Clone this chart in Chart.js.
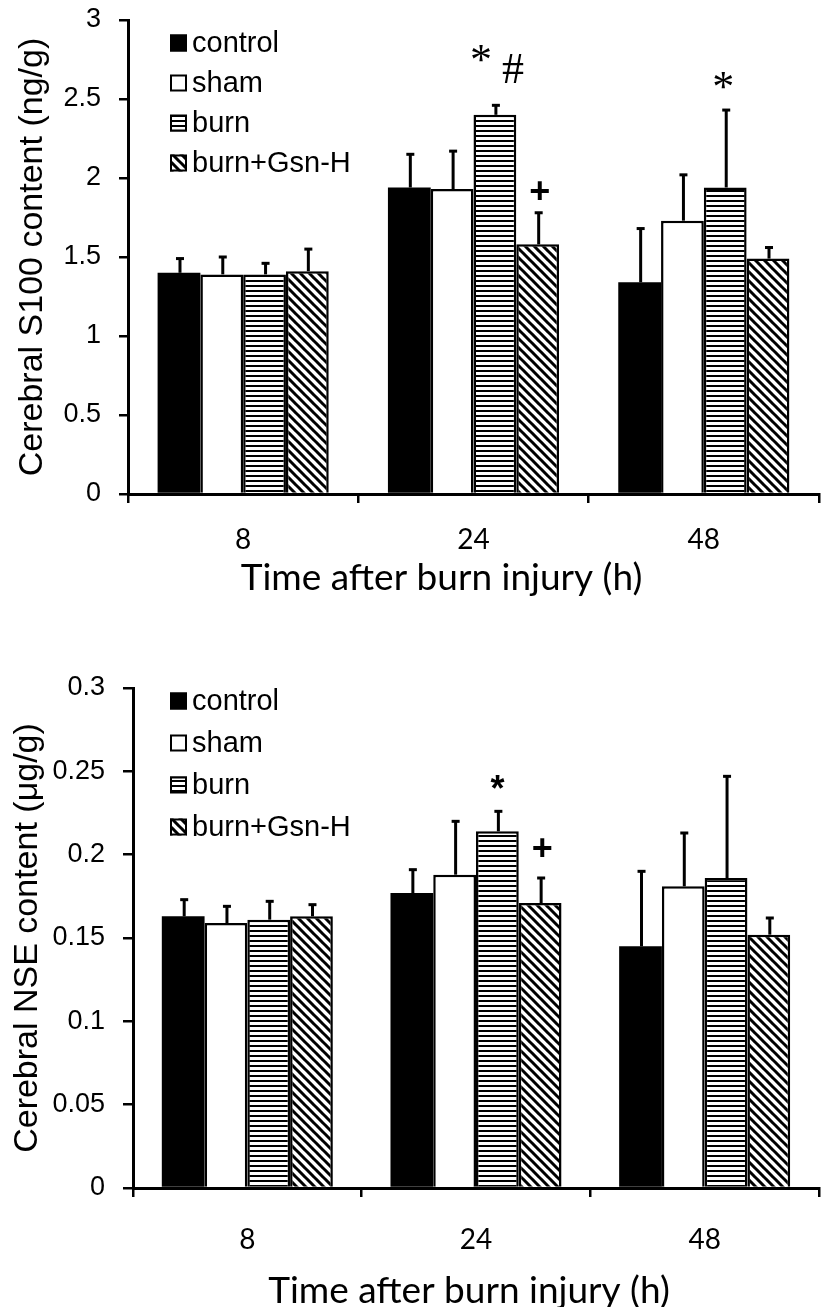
<!DOCTYPE html>
<html>
<head>
<meta charset="utf-8">
<script src="https://cdn.jsdelivr.net/npm/chart.js@4.4.1/dist/chart.umd.min.js"></script>
<style>
  body { margin: 0; background: #fff; width: 821px; height: 1307px; overflow: hidden; }
  .panel { position: absolute; left: 0; width: 821px; }
</style>
</head>
<body>
<div class="panel" style="top:0;height:620px"><canvas id="s100Chart"></canvas></div>
<div class="panel" style="top:620px;height:687px"><canvas id="nseChart"></canvas></div>
<script>
// time points and groups
const hours = ['8', '24', '48'];
const groupNames = ['control', 'sham', 'burn', 'burn+Gsn-H'];

// S100 (ng/g): mean and upper error
const s100Control = [1.40, 1.94, 1.34];
const s100Sham = [1.39, 1.93, 1.73];
const s100Burn = [1.39, 2.40, 1.94];
const s100Gsn = [1.41, 1.58, 1.49];
const s100ControlErr = [0.09, 0.21, 0.34];
const s100ShamErr = [0.11, 0.24, 0.29];
const s100BurnErr = [0.07, 0.06, 0.49];
const s100GsnErr = [0.14, 0.20, 0.07];

// NSE (µg/g): mean and upper error
const nseControl = [0.163, 0.177, 0.145];
const nseSham = [0.159, 0.188, 0.181];
const nseBurn = [0.161, 0.214, 0.186];
const nseGsn = [0.163, 0.171, 0.152];
const nseControlErr = [0.010, 0.014, 0.045];
const nseShamErr = [0.010, 0.032, 0.032];
const nseBurnErr = [0.011, 0.012, 0.061];
const nseGsnErr = [0.007, 0.015, 0.010];

// significance marks: dataset index, time index, symbol
const s100Marks = [
  { ds: 2, idx: 1, text: '*', serif: true, dx: -14, up: 43 },
  { ds: 2, idx: 1, text: '#', serif: true, dx: 18, up: 34 },
  { ds: 3, idx: 1, text: '+', serif: false, dx: 2, up: 20 },
  { ds: 2, idx: 2, text: '*', serif: true, dx: -2, up: 21 }
];
const nseMarks = [
  { ds: 2, idx: 1, text: '*', serif: false, dx: 0, up: 20 },
  { ds: 3, idx: 1, text: '+', serif: false, dx: 2, up: 28 }
];

// fill patterns
function hStripes() {
  const c = document.createElement('canvas');
  c.width = 8; c.height = 5;
  const g = c.getContext('2d');
  g.fillStyle = '#fff'; g.fillRect(0, 0, 8, 5);
  g.fillStyle = '#000'; g.fillRect(0, 0, 8, 2);
  return g.createPattern(c, 'repeat');
}
function dStripes() {
  const s = 9;
  const c = document.createElement('canvas');
  c.width = s; c.height = s;
  const g = c.getContext('2d');
  g.fillStyle = '#fff'; g.fillRect(0, 0, s, s);
  g.strokeStyle = '#000'; g.lineWidth = 3;
  g.beginPath();
  g.moveTo(-1, -1); g.lineTo(s + 1, s + 1);
  g.moveTo(-s - 1, -1); g.lineTo(1, s + 1);
  g.moveTo(s - 1, -1); g.lineTo(2 * s + 1, s + 1);
  g.stroke();
  return g.createPattern(c, 'repeat');
}
const fills = ['#000', '#fff', hStripes(), dStripes()];

const errorBars = {
  id: 'errorBars',
  afterDatasetsDraw(chart) {
    const ctx = chart.ctx, y = chart.scales.y;
    ctx.save();
    ctx.strokeStyle = '#000';
    ctx.fillStyle = '#000';
    ctx.lineWidth = 3;
    chart.data.datasets.forEach((ds, i) => {
      chart.getDatasetMeta(i).data.forEach((bar, j) => {
        const top = y.getPixelForValue(ds.data[j] + ds.err[j]);
        const x = bar.x + 1;
        ctx.beginPath();
        ctx.moveTo(x, bar.y);
        ctx.lineTo(x, top);
        ctx.stroke();
        ctx.fillRect(x - 4, top - 1.5, 8, 3);
      });
    });
    ctx.restore();
  }
};

const marksAndLegend = {
  id: 'marksAndLegend',
  afterDraw(chart) {
    const o = chart.options.plugins.extra;
    const ctx = chart.ctx, y = chart.scales.y, area = chart.chartArea;
    ctx.save();
    // significance marks
    ctx.fillStyle = '#000';
    ctx.textAlign = 'center';
    ctx.textBaseline = 'middle';
    o.marks.forEach(m => {
      const ds = chart.data.datasets[m.ds];
      const bar = chart.getDatasetMeta(m.ds).data[m.idx];
      const top = y.getPixelForValue(ds.data[m.idx] + ds.err[m.idx]);
      ctx.font = m.serif ? '44px "Liberation Serif"' : 'bold 36px "Liberation Sans"';
      ctx.fillText(m.text, bar.x + m.dx, top - m.up);
    });
    // legend
    ctx.textAlign = 'left';
    ctx.font = '29px "Liberation Sans"';
    chart.data.datasets.forEach((ds, i) => {
      const cy = area.top + o.legendTop + i * o.legendGap;
      const bx = o.legendX;
      ctx.fillStyle = ds.backgroundColor;
      ctx.fillRect(bx, cy - 8.5, 17, 17);
      ctx.lineWidth = 2;
      ctx.strokeStyle = '#000';
      ctx.strokeRect(bx + 1, cy - 7.5, 15, 15);
      ctx.fillStyle = '#000';
      ctx.fillText(ds.label, bx + 22, cy + 1);
    });
    // x axis title
    ctx.textAlign = 'center';
    ctx.font = '37px Lato';
    ctx.fillText(o.xTitle, (area.left + area.right) / 2 + o.xTitleShift, o.xTitleY);
    ctx.restore();
  }
};

function buildChart(id, series, errs, yMax, yStep, yTitle, extra, layout) {
  return new Chart(document.getElementById(id), {
    type: 'bar',
    data: {
      labels: hours,
      datasets: groupNames.map((name, i) => ({
        label: name,
        data: series[i],
        err: errs[i],
        backgroundColor: fills[i],
        borderColor: '#000',
        borderWidth: i === 0 ? 0 : 2.5,
        categoryPercentage: layout.catPct,
        barPercentage: 1
      }))
    },
    options: {
      responsive: true,
      maintainAspectRatio: false,
      animation: false,
      layout: { padding: { top: layout.top, right: 2, left: 0, bottom: 0 } },
      plugins: {
        legend: { display: false },
        tooltip: { enabled: false },
        extra: extra
      },
      scales: {
        x: {
          grid: { drawOnChartArea: false, drawTicks: true, tickLength: 9, color: '#000', lineWidth: 2.5, offset: true },
          border: { display: true, color: '#000', width: 3 },
          ticks: { color: '#000', font: { family: 'Lato', size: 28 }, padding: layout.xPad },
          afterFit: s => { s.height = layout.xH; }
        },
        y: {
          min: 0,
          max: yMax,
          grid: { drawOnChartArea: false, drawTicks: true, tickLength: layout.yTick, color: '#000', lineWidth: 2.5 },
          border: { display: true, color: '#000', width: 3 },
          ticks: {
            stepSize: yStep,
            color: '#000',
            font: { family: 'Liberation Sans', size: 27 },
            padding: 18,
            callback: v => String(+v.toFixed(2))
          },
          title: {
            display: true,
            text: yTitle,
            color: '#000',
            font: { family: 'Liberation Sans', size: 34 },
            padding: { top: layout.yTitlePad, bottom: 0 }
          },
          afterFit: s => { s.width = layout.yW; s.paddingTop = 0; s.paddingBottom = 0; }
        }
      }
    },
    plugins: [errorBars, marksAndLegend]
  });
}

buildChart('s100Chart',
  [s100Control, s100Sham, s100Burn, s100Gsn],
  [s100ControlErr, s100ShamErr, s100BurnErr, s100GsnErr],
  3, 0.5, 'Cerebral S100 content (ng/g)',
  { marks: s100Marks, legendX: 170, legendTop: 23, legendGap: 40,
    xTitle: 'Time after burn injury (h)', xTitleShift: -32, xTitleY: 578 },
  { top: 20, xH: 126, xPad: 20, yTick: 9, yW: 128, yTitlePad: 12, catPct: 0.743 });

buildChart('nseChart',
  [nseControl, nseSham, nseBurn, nseGsn],
  [nseControlErr, nseShamErr, nseBurnErr, nseGsnErr],
  0.3, 0.05, 'Cerebral NSE content (\u03bcg/g)',
  { marks: nseMarks, legendX: 170, legendTop: 13, legendGap: 42,
    xTitle: 'Time after burn injury (h)', xTitleShift: -7, xTitleY: 671 },
  { top: 68, xH: 119, xPad: 26, yTick: 10, yW: 133, yTitlePad: 7, catPct: 0.748 });
</script>
</body>
</html>
